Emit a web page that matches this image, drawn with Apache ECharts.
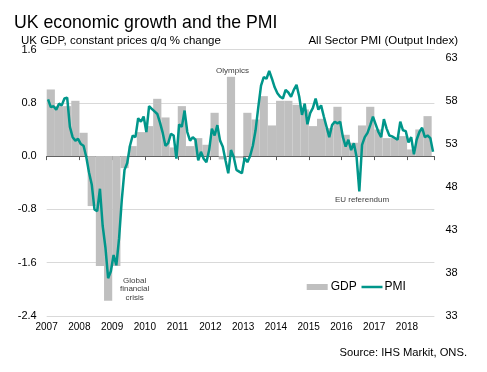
<!DOCTYPE html>
<html><head><meta charset="utf-8">
<script src="https://cdn.jsdelivr.net/npm/echarts@6/dist/echarts.min.js"></script>
<style>html,body{margin:0;padding:0;background:#fff}#c{width:487px;height:372px}</style>
</head><body><div id="c"></div>
<script>
// ---- data ----
const years = [2007,2008,2009,2010,2011,2012,2013,2014,2015,2016,2017,2018];
// UK GDP q/q % change, 2007 Q1 .. 2018 Q3
const gdpQuarterly = [
  1.00, 0.75, 0.75, 0.83,
  0.35, -0.75, -1.65, -2.17,
  -1.65, -0.18, 0.15, 0.36,
  0.45, 0.86, 0.58, 0.13,
  0.75, 0.15, 0.27, 0.17,
  0.65, -0.05, 1.19, -0.03,
  0.65, 0.55, 0.90, 0.46,
  0.83, 0.83, 0.77, 0.70,
  0.45, 0.56, 0.42, 0.74,
  0.32, 0.20, 0.46, 0.74,
  0.40, 0.27, 0.27, 0.30,
  0.10, 0.40, 0.60
];
// All Sector PMI (Output Index), Jan 2007 .. Oct 2018
const pmiMonthly = [
  58.2, 57.3, 57.4, 57.0, 57.7, 57.5, 58.3, 58.4, 55.0, 53.8, 53.4, 53.6,
  53.0, 52.8, 51.5, 49.7, 48.3, 45.4, 45.2, 47.8, 43.5, 41.0, 37.4, 38.2,
  40.1, 38.9, 42.0, 46.5, 50.0, 50.8, 52.8, 54.0, 53.8, 56.0, 55.6, 56.2,
  54.4, 57.4, 57.1, 56.8, 56.5, 55.5, 54.3, 52.8, 53.1, 54.2, 54.0, 51.3,
  55.3, 55.0, 56.9, 54.4, 53.4, 53.8, 53.5, 51.1, 52.1, 51.3, 50.9, 52.3,
  54.8, 54.0, 55.2, 53.4, 52.7, 51.1, 49.6, 52.3, 51.5, 50.0, 49.8, 49.6,
  51.4, 50.9, 51.6, 52.8, 54.6, 57.3, 59.8, 60.8, 60.6, 61.5, 60.6, 59.6,
  58.9, 58.5, 58.3, 59.3, 59.0, 58.5, 59.3, 59.9, 58.5, 56.4, 57.7, 55.3,
  56.6, 57.2, 58.3, 57.0, 57.5, 56.2, 55.0, 53.8, 55.2, 55.6, 55.4, 55.6,
  53.8, 52.7, 53.5, 52.3, 53.1, 51.5, 47.5, 52.9, 53.8, 54.3, 55.2, 56.2,
  55.3, 54.4, 53.8, 55.9, 54.8, 54.0, 53.9, 53.7, 53.5, 55.6, 54.6, 54.5,
  53.2, 53.8, 51.8, 53.5, 54.4, 54.9, 53.8, 54.0, 53.7, 52.1
];
const gdpTicks = [-2.4, 1.6, 0.8];   // min, max, step
const pmiTicks = [33, 64, 5];         // min, max, step
const annotations = {
  olympics: ['2012-8', 1.19, 'Olympics'],
  crisis: ['2008-11', -2.17, 'Global\nfinancial\ncrisis'],
  referendum: ['2016-7', 47.5, 'EU referendum']
};

// ---- build ----
const months = [];
for (const y of years) for (let m = 1; m <= 12; m++) if (months.length < pmiMonthly.length) months.push(y + '-' + m);
// each quarterly bar is centred on the middle month of its quarter and spans 3 months
const gdpOnMonths = months.map(() => null);
gdpQuarterly.forEach((v, q) => { gdpOnMonths[q * 3 + 1] = v; });

const FONT = 'Liberation Sans, Arial, sans-serif';
const LINE = '#00968a', BAR = '#bfbfbf';
const chart = echarts.init(document.getElementById('c'), null, {renderer: 'canvas'});
const txt = (size) => ({fontSize: size, fontWeight: 'normal', color: '#000', fontFamily: FONT});
chart.setOption({
  animation: false,
  textStyle: {fontFamily: FONT},
  title: [
    {text: 'UK economic growth and the PMI', left: 9, top: 9.5, padding: 5, textStyle: txt(17.7)},
    {text: 'UK GDP, constant prices q/q % change', left: 16, top: 30, textStyle: txt(11.5)},
    {text: 'All Sector PMI (Output Index)', right: 24, top: 30, textStyle: txt(11.5)},
    {text: 'Source: IHS Markit, ONS.', right: 15, top: 342, textStyle: txt(11.2)}
  ],
  legend: [
    {left: 301.7, top: 276, itemWidth: 21, itemHeight: 6,
     textStyle: {fontSize: 12, color: '#000', padding: [0, 0, 0, -2]},
     data: [{name: 'GDP', icon: 'rect'}]},
    {left: 356.5, top: 276, itemWidth: 21, itemHeight: 2.5,
     textStyle: {fontSize: 12, color: '#000', padding: [0, 0, 0, -3]},
     data: [{name: 'PMI', icon: 'rect'}]}
  ],
  grid: {left: 46.7, right: 52.6, top: 49.5, bottom: 56, containLabel: false},
  xAxis: [
    {type: 'category', data: months, boundaryGap: true,
     axisLine: {show: true, onZero: true, onZeroAxisIndex: 0, lineStyle: {color: '#595959', width: 1}},
     axisTick: {show: true, interval: (i) => i % 12 === 0, length: 4, lineStyle: {color: '#595959'}},
     axisLabel: {show: false}, splitLine: {show: false}},
    {type: 'category', data: months, boundaryGap: true, position: 'bottom',
     axisLine: {show: false, onZero: false}, axisTick: {show: false},
     axisLabel: {show: true, interval: (i) => i % 12 === 0, formatter: (v) => v.split('-')[0],
       fontSize: 10, color: '#000', margin: 6, padding: [0, 3, 0, 0]},
     splitLine: {show: false}}
  ],
  yAxis: [
    {type: 'value', min: gdpTicks[0], max: gdpTicks[1], interval: gdpTicks[2], position: 'left',
     axisLine: {show: false}, axisTick: {show: false},
     axisLabel: {formatter: (v) => v.toFixed(1), fontSize: 11, color: '#000', margin: 10},
     splitLine: {show: true, lineStyle: {color: '#d9d9d9', width: 1}}},
    {type: 'value', min: pmiTicks[0], max: pmiTicks[1], interval: pmiTicks[2], position: 'right',
     axisLine: {show: false}, axisTick: {show: false},
     axisLabel: {fontSize: 11, color: '#000', margin: 11, showMaxLabel: false},
     splitLine: {show: false}}
  ],
  series: [
    {name: 'GDP', type: 'bar', xAxisIndex: 0, yAxisIndex: 0, data: gdpOnMonths,
     barWidth: '300%', barGap: '0%', itemStyle: {color: BAR},
     markPoint: {symbol: 'circle', symbolSize: 0, silent: true,
       data: [
         {coord: [annotations.olympics[0], annotations.olympics[1]],
          label: {show: true, formatter: annotations.olympics[2], offset: [1.5, -6.5], fontSize: 8, color: '#404040'}},
         {coord: [annotations.crisis[0], annotations.crisis[1]],
          label: {show: true, formatter: annotations.crisis[2], offset: [26.5, -11.5], fontSize: 8, lineHeight: 8.7, align: 'center', color: '#404040'}}
       ]}},
    {name: 'PMI', type: 'line', xAxisIndex: 0, yAxisIndex: 1, data: pmiMonthly,
     symbol: 'none', lineStyle: {color: LINE, width: 2.5}, itemStyle: {color: LINE},
     markPoint: {symbol: 'circle', symbolSize: 0, silent: true,
       data: [
         {coord: [annotations.referendum[0], annotations.referendum[1]],
          label: {show: true, formatter: annotations.referendum[2], offset: [2.7, 8], fontSize: 8, color: '#404040'}}
       ]}}
  ]
});
</script></body></html>
